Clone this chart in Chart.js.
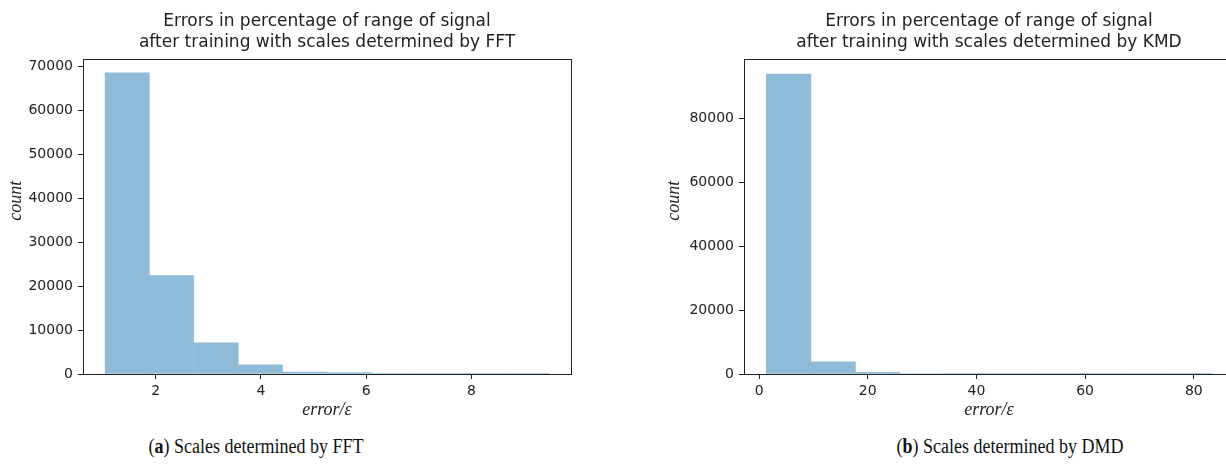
<!DOCTYPE html>
<html>
<head>
<meta charset="utf-8">
<title>Errors in percentage of range of signal</title>
<script src="https://cdn.jsdelivr.net/npm/chart.js@4.4.1/dist/chart.umd.min.js"></script>
<style>
  html, body { margin: 0; padding: 0; background: #fff; width: 1226px; height: 471px; overflow: hidden; }
  canvas { position: absolute; top: 0; }
  #fftChart { left: 0; }
  #kmdChart { left: 613px; }
  .caption {
    position: absolute; top: 432px; line-height: 28px;
    font-family: "Liberation Serif", serif; font-size: 20px; color: #111;
    white-space: nowrap; transform: translateX(-50%) scaleX(0.9);
  }
</style>
</head>
<body>
<canvas id="fftChart" width="613" height="425"></canvas>
<canvas id="kmdChart" width="625" height="425"></canvas>
<div class="caption" style="left:256px">(<b>a</b>) Scales determined by FFT</div>
<div class="caption" style="left:1010px">(<b>b</b>) Scales determined by DMD</div>
<script>
// histogram bins (centres) and counts
const fftBinCenters = [1.46, 2.30, 3.15, 3.99, 4.83, 5.68, 6.52, 7.36, 8.21, 9.05];
const fftCounts     = [68500, 22400, 7100, 2100, 420, 330, 90, 30, 10, 4];
const kmdBinCenters = [5.42, 13.62, 21.82, 30.02, 38.22, 46.42, 54.62, 62.82, 71.02, 79.22];
const kmdCounts     = [94000, 3840, 550, 150, 60, 25, 12, 6, 3, 2];

// tick labels
const fftXTicks = [2, 4, 6, 8];
const fftYTicks = [0, 10000, 20000, 30000, 40000, 50000, 60000, 70000];
const kmdXTicks = [0, 20, 40, 60, 80];
const kmdYTicks = [0, 20000, 40000, 60000, 80000];

const fftTitle = ['Errors in percentage of range of signal', 'after training with scales determined by FFT'];
const kmdTitle = ['Errors in percentage of range of signal', 'after training with scales determined by KMD'];
const yLabel = 'count';
const xLabel = 'error/\u03b5';

const ink = '#222';
const barFill = '#8fbbd9';
const tickFont = { family: "'DejaVu Sans', sans-serif", size: 14 };
const labelFont = { family: "'Liberation Serif', serif", size: 18, style: 'italic', lineHeight: 1.2 };

// matplotlib style box around the plot area
const frame = {
  id: 'frame',
  afterDraw(chart) {
    const { ctx, chartArea: a } = chart;
    ctx.save();
    ctx.strokeStyle = ink;
    ctx.lineWidth = 1;
    ctx.strokeRect(Math.round(a.left) + 0.5, Math.round(a.top) + 0.5,
                   Math.round(a.right - a.left), Math.round(a.bottom - a.top));
    ctx.restore();
  }
};

function makeHist(id, centers, counts, cfg) {
  return new Chart(document.getElementById(id), {
    type: 'bar',
    data: {
      datasets: [{
        data: centers.map((c, i) => ({ x: c, y: counts[i] })),
        backgroundColor: barFill,
        borderWidth: 0,
        barPercentage: 1,
        categoryPercentage: 1
      }]
    },
    options: {
      responsive: false,
      animation: false,
      layout: { padding: cfg.padding },
      plugins: {
        legend: { display: false },
        tooltip: { enabled: false },
        title: {
          display: true,
          fullSize: false,
          text: cfg.title,
          color: ink,
          font: { family: "'DejaVu Sans', sans-serif", size: 17, weight: 'normal', lineHeight: 1.18 },
          padding: { top: 12, bottom: 7 }
        }
      },
      scales: {
        x: {
          type: 'linear',
          min: cfg.xMin, max: cfg.xMax,
          offset: false,
          afterBuildTicks(s) { s.ticks = cfg.xTicks.map(v => ({ value: v })); },
          ticks: { font: tickFont, color: ink, padding: 4, maxRotation: 0, autoSkip: false },
          grid: { offset: false, drawOnChartArea: false, tickLength: 5, tickColor: ink, tickWidth: 1 },
          border: { display: false },
          title: { display: true, text: xLabel, font: labelFont, color: ink, padding: { top: 0, bottom: 4 } },
          afterFit(s) { s.height = 51; }
        },
        y: {
          min: 0, max: cfg.yMax,
          afterBuildTicks(s) { s.ticks = cfg.yTicks.map(v => ({ value: v })); },
          ticks: { font: tickFont, color: ink, padding: 5, autoSkip: false, callback: v => String(v) },
          grid: { drawOnChartArea: false, tickLength: 5, tickColor: ink, tickWidth: 1 },
          border: { display: false },
          title: { display: true, text: '\u00a0'.repeat(7) + yLabel, font: labelFont, color: ink,
                   padding: { top: cfg.yTitlePad, bottom: 0 } },
          afterFit(s) { s.width = cfg.yWidth; }
        }
      }
    },
    plugins: [frame]
  });
}

makeHist('fftChart', fftBinCenters, fftCounts, {
  title: fftTitle, xMin: 0.62, xMax: 9.89, xTicks: fftXTicks, yMax: 71600, yTicks: fftYTicks,
  yWidth: 83, yTitlePad: 5, padding: { left: 0, right: 42, top: 0, bottom: 0 }
});

makeHist('kmdChart', kmdBinCenters, kmdCounts, {
  title: kmdTitle, xMin: -2.78, xMax: 87.4, xTicks: kmdXTicks, yMax: 98700, yTicks: kmdYTicks,
  yWidth: 84, yTitlePad: 3, padding: { left: 47, right: 4, top: 0, bottom: 0 }
});
</script>
</body>
</html>
